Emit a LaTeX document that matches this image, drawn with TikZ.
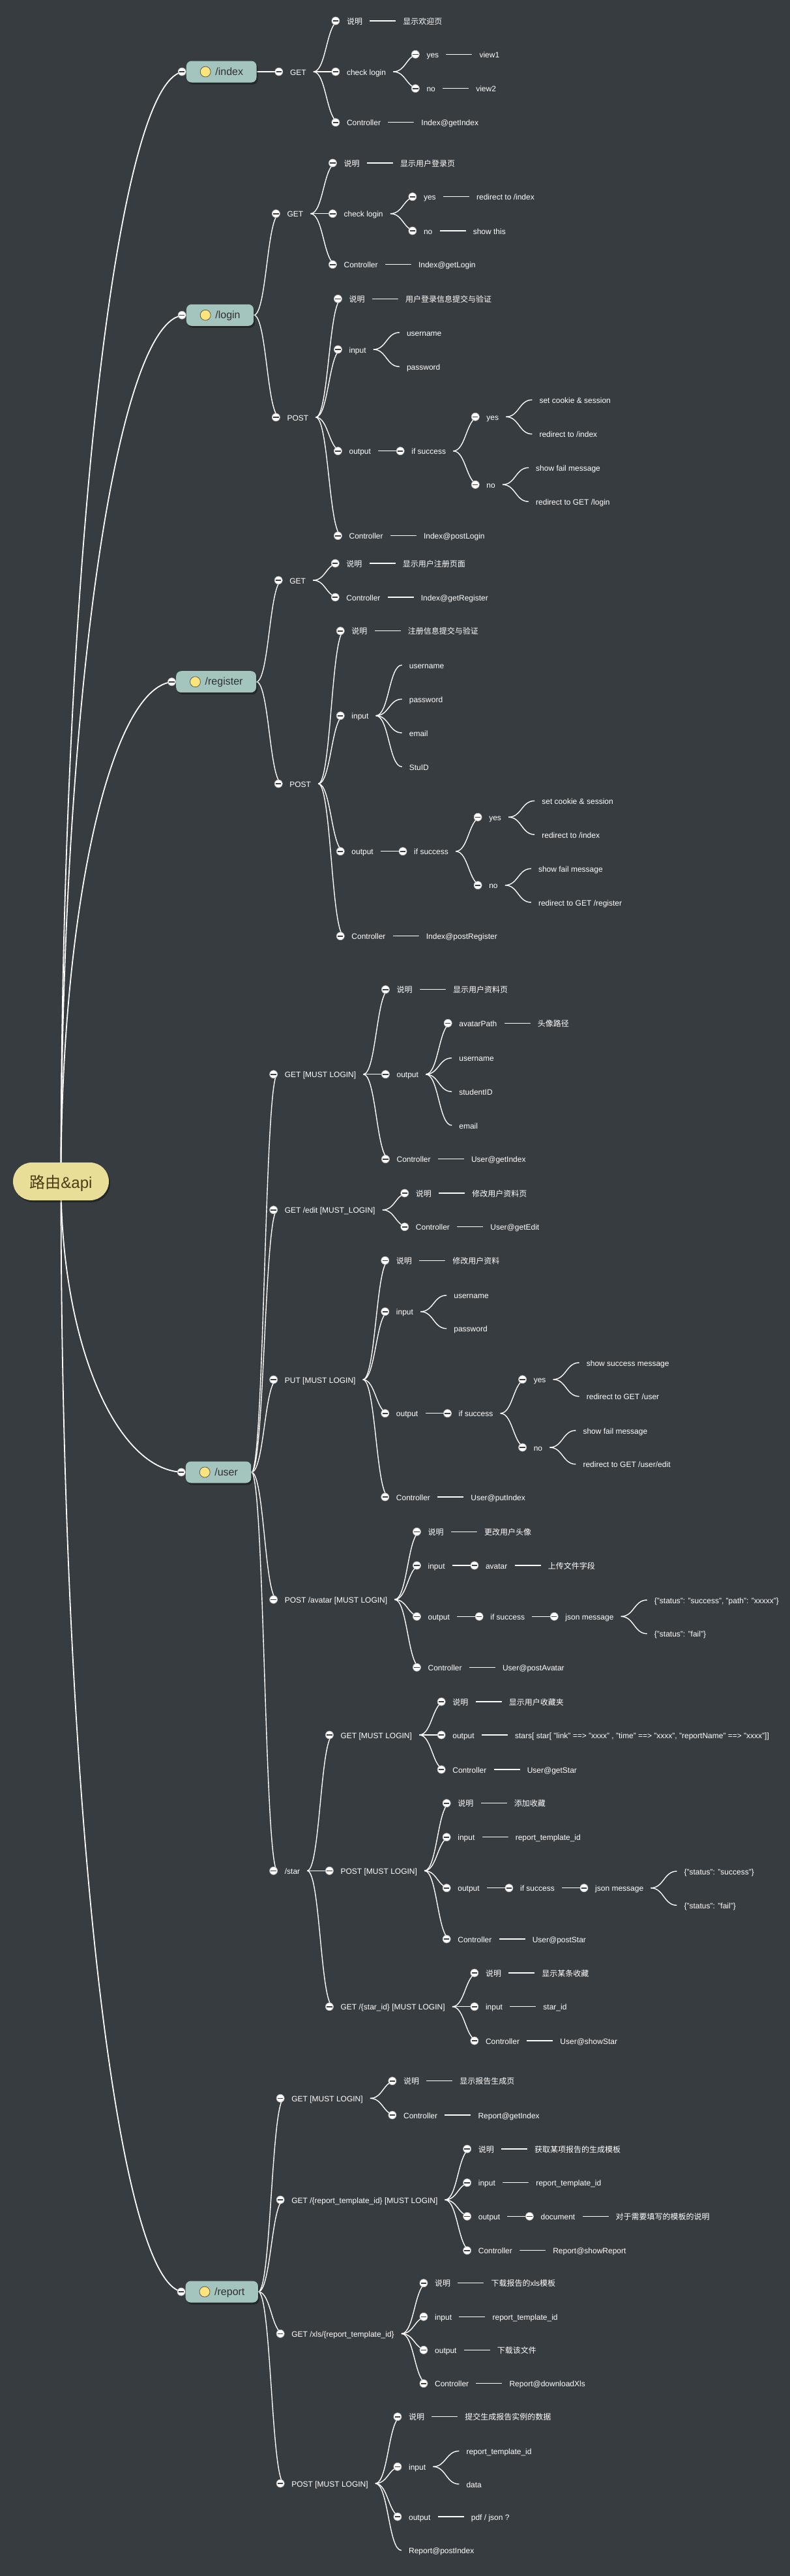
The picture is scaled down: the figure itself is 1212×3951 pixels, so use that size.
\documentclass[tikz,border=0pt]{standalone}
\usepackage{fontspec}
\setmainfont{Liberation Sans}
\newfontfamily\cjk{Noto Sans CJK SC}
\usetikzlibrary{calc,shadows}
\pgfdeclarelayer{bgl}
\pgfdeclarelayer{lines}
\pgfsetlayers{bgl,lines,main}
\definecolor{bgc}{HTML}{373C40}
\definecolor{catc}{HTML}{A4C5BE}
\definecolor{rootc}{HTML}{E8DE98}
\definecolor{roott}{HTML}{4A3C14}
\definecolor{cattext}{HTML}{303030}
\definecolor{iconc}{HTML}{FBE47C}
\definecolor{minusc}{HTML}{3A3F44}
\tikzset{
  mnode/.style={font=\fontsize{12}{14}\selectfont, text=white, inner xsep=11pt, inner ysep=2pt, text height=12pt, text depth=2pt, anchor=west},
  link/.style={draw=white, line width=1.4pt},
  rlink/.style={draw=white, line width=1.8pt},
  bul/.style={circle, fill=white, draw=gray!55, line width=0.7pt, minimum size=12pt, inner sep=0pt},
  minus/.style={draw=minusc, line width=1.6pt},
  cat/.style={fill=catc, rounded corners=8pt, minimum height=33pt, inner xsep=20.5pt, inner ysep=0pt, text height=13pt, text depth=3pt, font=\fontsize{16}{19}\selectfont, text=cattext, anchor=west, drop shadow={shadow xshift=2pt, shadow yshift=-3pt, opacity=0.35, fill=black}},
  icon/.style={circle, fill=iconc, draw=gray!70!black, line width=0.8pt, minimum size=16pt, inner sep=0pt},
  rootbox/.style={fill=rootc, text=roott, rounded corners=29pt, minimum height=58pt, inner xsep=25.5pt, inner ysep=0pt, text height=22pt, text depth=2pt, font=\fontsize{24}{28}\selectfont, drop shadow={shadow xshift=2pt, shadow yshift=-3pt, opacity=0.35, fill=black}}
}
\newcommand\conn[2]{\draw[link] let \p1=(#1.east), \p2=(#2.west) in (\p1) .. controls ({0.5*\x1+0.5*\x2},\y1) and ({0.5*\x1+0.5*\x2},\y2) .. (\p2);}
\newcommand\mkl[4]{%
  \coordinate (#1-y) at (0,#3);
  \path (#2.east) ++(40pt,0pt) coordinate (#1-x);
  \node[mnode] (#1) at (#1-x |- #1-y) {#4};
  \begin{pgfonlayer}{lines}\conn{#2}{#1}\end{pgfonlayer}}
\newcommand\mkb[4]{%
  \mkl{#1}{#2}{#3}{#4}
  \node[bul] (#1-b) at ([xshift=-6pt]#1.west) {};
  \draw[minus] ([xshift=-4.2pt]#1-b.center) -- ([xshift=4.2pt]#1-b.center);}
\newcommand\mkcat[4]{%
  \node[cat] (#1) at (#2,#3) {\hspace*{24pt}#4};
  \node[icon] (#1-i) at ([xshift=29.5pt]#1.west) {};
  \node[bul] (#1-b) at ([xshift=-6.5pt]#1.west) {};
  \draw[minus] ([xshift=-4.2pt]#1-b.center) -- ([xshift=4.2pt]#1-b.center);
  \begin{pgfonlayer}{lines}
  \draw[rlink] let \p1=(root.center), \p2=([xshift=-2pt]#1.west) in (\p1) .. controls (\x1,{\y1+0.5523*(\y2-\y1)}) and ({\x2+0.5523*(\x1-\x2)},\y2) .. (\p2);
  \end{pgfonlayer}}
\begin{document}
\begin{tikzpicture}[x=1pt,y=-1pt]
\begin{pgfonlayer}{bgl}\fill[bgc] (0,0) rectangle (1212,3951);\end{pgfonlayer}
\useasboundingbox (0,0) rectangle (1212,3951);
\node[rootbox] (root) at (93.5,1812) {{\cjk 路由}\&api};
% /index
\mkcat{index}{285.7}{110}{/index}
\mkb{i1}{index}{110}{GET}
\mkb{i1a}{i1}{32}{\cjk 说明}
\mkl{i1a1}{i1a}{32}{\cjk 显示欢迎页}
\mkb{i1b}{i1}{110}{check login}
\mkb{i1b1}{i1b}{83.3}{yes}
\mkl{i1b1a}{i1b1}{83.3}{view1}
\mkb{i1b2}{i1b}{135.7}{no}
\mkl{i1b2a}{i1b2}{135.7}{view2}
\mkb{i1c}{i1}{187.7}{Controller}
\mkl{i1c1}{i1c}{187.7}{Index@getIndex}
% /login
\mkcat{login}{285.7}{483.3}{/login}
\mkb{l1}{login}{327.7}{GET}
\mkb{l1a}{l1}{250}{\cjk 说明}
\mkl{l1a1}{l1a}{250}{\cjk 显示用户登录页}
\mkb{l1b}{l1}{327.7}{check login}
\mkb{l1b1}{l1b}{301.7}{yes}
\mkl{l1b1a}{l1b1}{301.7}{redirect to /index}
\mkb{l1b2}{l1b}{354}{no}
\mkl{l1b2a}{l1b2}{354}{show this}
\mkb{l1c}{l1}{405.7}{Controller}
\mkl{l1c1}{l1c}{405.7}{Index@getLogin}
\mkb{l2}{login}{640}{POST}
\mkb{l2a}{l2}{458.3}{\cjk 说明}
\mkl{l2a1}{l2a}{458.3}{\cjk 用户登录信息提交与验证}
\mkb{l2b}{l2}{536}{input}
\mkl{l2b1}{l2b}{510}{username}
\mkl{l2b2}{l2b}{562.3}{password}
\mkb{l2c}{l2}{691.7}{output}
\mkb{l2c1}{l2c}{691.7}{if success}
\mkb{l2c1a}{l2c1}{639.3}{yes}
\mkl{l2c1a1}{l2c1a}{613.3}{set cookie \& session}
\mkl{l2c1a2}{l2c1a}{665.7}{redirect to /index}
\mkb{l2c1b}{l2c1}{743.3}{no}
\mkl{l2c1b1}{l2c1b}{717.3}{show fail message}
\mkl{l2c1b2}{l2c1b}{769.3}{redirect to GET /login}
\mkb{l2d}{l2}{821.7}{Controller}
\mkl{l2d1}{l2d}{821.7}{Index@postLogin}
% /register
\mkcat{register}{270}{1045.7}{/register}
\mkb{r1}{register}{890}{GET}
\mkb{r1a}{r1}{864}{\cjk 说明}
\mkl{r1a1}{r1a}{864}{\cjk 显示用户注册页面}
\mkb{r1b}{r1}{916}{Controller}
\mkl{r1b1}{r1b}{916}{Index@getRegister}
\mkb{r2}{register}{1202}{POST}
\mkb{r2a}{r2}{967.7}{\cjk 说明}
\mkl{r2a1}{r2a}{967.7}{\cjk 注册信息提交与验证}
\mkb{r2b}{r2}{1097.7}{input}
\mkl{r2b1}{r2b}{1020}{username}
\mkl{r2b2}{r2b}{1072.3}{password}
\mkl{r2b3}{r2b}{1124}{email}
\mkl{r2b4}{r2b}{1176}{StuID}
\mkb{r2c}{r2}{1305.7}{output}
\mkb{r2c1}{r2c}{1305.7}{if success}
\mkb{r2c1a}{r2c1}{1253.3}{yes}
\mkl{r2c1a1}{r2c1a}{1228.3}{set cookie \& session}
\mkl{r2c1a2}{r2c1a}{1280}{redirect to /index}
\mkb{r2c1b}{r2c1}{1357.7}{no}
\mkl{r2c1b1}{r2c1b}{1332.3}{show fail message}
\mkl{r2c1b2}{r2c1b}{1384}{redirect to GET /register}
\mkb{r2d}{r2}{1435.7}{Controller}
\mkl{r2d1}{r2d}{1435.7}{Index@postRegister}
% /user
\mkcat{user}{284.7}{2258}{/user}
\mkb{u1}{user}{1647.7}{GET [MUST LOGIN]}
\mkb{u1a}{u1}{1517.7}{\cjk 说明}
\mkl{u1a1}{u1a}{1517.7}{\cjk 显示用户资料页}
\mkb{u1b}{u1}{1647.7}{output}
\mkb{u1b1}{u1b}{1569.3}{avatarPath}
\mkl{u1b1a}{u1b1}{1569.3}{\cjk 头像路径}
\mkl{u1b2}{u1b}{1622.7}{username}
\mkl{u1b3}{u1b}{1674.3}{studentID}
\mkl{u1b4}{u1b}{1726}{email}
\mkb{u1c}{u1}{1777.7}{Controller}
\mkl{u1c1}{u1c}{1777.7}{User@getIndex}
\mkb{u2}{user}{1855.7}{GET /edit [MUST\_LOGIN]}
\mkb{u2a}{u2}{1830}{\cjk 说明}
\mkl{u2a1}{u2a}{1830}{\cjk 修改用户资料页}
\mkb{u2b}{u2}{1881.7}{Controller}
\mkl{u2b1}{u2b}{1881.7}{User@getEdit}
\mkb{u3}{user}{2116}{PUT [MUST LOGIN]}
\mkb{u3a}{u3}{1933.3}{\cjk 说明}
\mkl{u3a1}{u3a}{1933.3}{\cjk 修改用户资料}
\mkb{u3b}{u3}{2011.7}{input}
\mkl{u3b1}{u3b}{1986.7}{username}
\mkl{u3b2}{u3b}{2037.7}{password}
\mkb{u3c}{u3}{2167.7}{output}
\mkb{u3c1}{u3c}{2167.7}{if success}
\mkb{u3c1a}{u3c1}{2115.7}{yes}
\mkl{u3c1a1}{u3c1a}{2090}{show success message}
\mkl{u3c1a2}{u3c1a}{2141.7}{redirect to GET /user}
\mkb{u3c1b}{u3c1}{2220}{no}
\mkl{u3c1b1}{u3c1b}{2194}{show fail message}
\mkl{u3c1b2}{u3c1b}{2245.7}{redirect to GET /user/edit}
\mkb{u3d}{u3}{2296}{Controller}
\mkl{u3d1}{u3d}{2296}{User@putIndex}
\mkb{u4}{user}{2453.3}{POST /avatar [MUST LOGIN]}
\mkb{u4a}{u4}{2349.3}{\cjk 说明}
\mkl{u4a1}{u4a}{2349.3}{\cjk 更改用户头像}
\mkb{u4b}{u4}{2401}{input}
\mkb{u4b1}{u4b}{2401}{avatar}
\mkl{u4b1a}{u4b1}{2401}{\cjk 上传文件字段}
\mkb{u4c}{u4}{2479.3}{output}
\mkb{u4c1}{u4c}{2479.3}{if success}
\mkb{u4c1a}{u4c1}{2479.3}{json message}
\mkl{u4c1a1}{u4c1a}{2454}{\{"status": "success", "path": "xxxxx"\}}
\mkl{u4c1a2}{u4c1a}{2505.7}{\{"status": "fail"\}}
\mkb{u4d}{u4}{2557.3}{Controller}
\mkl{u4d1}{u4d}{2557.3}{User@postAvatar}
\mkb{u5}{user}{2869.3}{/star}
\mkb{s1}{u5}{2661}{GET [MUST LOGIN]}
\mkb{s1a}{s1}{2610}{\cjk 说明}
\mkl{s1a1}{s1a}{2610}{\cjk 显示用户收藏夹}
\mkb{s1b}{s1}{2661}{output}
\mkl{s1b1}{s1b}{2661}{stars[ star[ "link" ==> "xxxx" , "time" ==> "xxxx", "reportName" ==> "xxxx"]]}
\mkb{s1c}{s1}{2714}{Controller}
\mkl{s1c1}{s1c}{2714}{User@getStar}
\mkb{s2}{u5}{2869.3}{POST [MUST LOGIN]}
\mkb{s2a}{s2}{2765.7}{\cjk 说明}
\mkl{s2a1}{s2a}{2765.7}{\cjk 添加收藏}
\mkb{s2b}{s2}{2817.7}{input}
\mkl{s2b1}{s2b}{2817.7}{report\_template\_id}
\mkb{s2c}{s2}{2895.7}{output}
\mkb{s2c1}{s2c}{2895.7}{if success}
\mkb{s2c1a}{s2c1}{2895.7}{json message}
\mkl{s2c1a1}{s2c1a}{2870}{\{"status": "success"\}}
\mkl{s2c1a2}{s2c1a}{2922.3}{\{"status": "fail"\}}
\mkb{s2d}{s2}{2974}{Controller}
\mkl{s2d1}{s2d}{2974}{User@postStar}
\mkb{s3}{u5}{3077.7}{GET /\{star\_id\} [MUST LOGIN]}
\mkb{s3a}{s3}{3026}{\cjk 说明}
\mkl{s3a1}{s3a}{3026}{\cjk 显示某条收藏}
\mkb{s3b}{s3}{3077.7}{input}
\mkl{s3b1}{s3b}{3077.7}{star\_id}
\mkb{s3c}{s3}{3130}{Controller}
\mkl{s3c1}{s3c}{3130}{User@showStar}
% /report
\mkcat{report}{284.5}{3515}{/report}
\mkb{p1}{report}{3218.3}{GET [MUST LOGIN]}
\mkb{p1a}{p1}{3191.7}{\cjk 说明}
\mkl{p1a1}{p1a}{3191.7}{\cjk 显示报告生成页}
\mkb{p1b}{p1}{3244}{Controller}
\mkl{p1b1}{p1b}{3244}{Report@getIndex}
\mkb{p2}{report}{3374}{GET /\{report\_template\_id\} [MUST LOGIN]}
\mkb{p2a}{p2}{3296}{\cjk 说明}
\mkl{p2a1}{p2a}{3296}{\cjk 获取某项报告的生成模板}
\mkb{p2b}{p2}{3347.7}{input}
\mkl{p2b1}{p2b}{3347.7}{report\_template\_id}
\mkb{p2c}{p2}{3399.3}{output}
\mkb{p2c1}{p2c}{3399.3}{document}
\mkl{p2c1a}{p2c1}{3399.3}{\cjk 对于需要填写的模板的说明}
\mkb{p2d}{p2}{3451.7}{Controller}
\mkl{p2d1}{p2d}{3451.7}{Report@showReport}
\mkb{p3}{report}{3579.3}{GET /xls/\{report\_template\_id\}}
\mkb{p3a}{p3}{3501.7}{\cjk 说明}
\mkl{p3a1}{p3a}{3501.7}{{\cjk 下载报告的}xls{\cjk 模板}}
\mkb{p3b}{p3}{3553.3}{input}
\mkl{p3b1}{p3b}{3553.3}{report\_template\_id}
\mkb{p3c}{p3}{3604.3}{output}
\mkl{p3c1}{p3c}{3604.3}{\cjk 下载该文件}
\mkb{p3d}{p3}{3655.7}{Controller}
\mkl{p3d1}{p3d}{3655.7}{Report@downloadXls}
\mkb{p4}{report}{3809}{POST [MUST LOGIN]}
\mkb{p4a}{p4}{3706.7}{\cjk 说明}
\mkl{p4a1}{p4a}{3706.7}{\cjk 提交生成报告实例的数据}
\mkb{p4b}{p4}{3783.3}{input}
\mkl{p4b1}{p4b}{3759.3}{report\_template\_id}
\mkl{p4b2}{p4b}{3810}{data}
\mkb{p4c}{p4}{3860}{output}
\mkl{p4c1}{p4c}{3860}{pdf / json ?}
\mkl{p4d}{p4}{3911.7}{Report@postIndex}
\end{tikzpicture}
\end{document}
